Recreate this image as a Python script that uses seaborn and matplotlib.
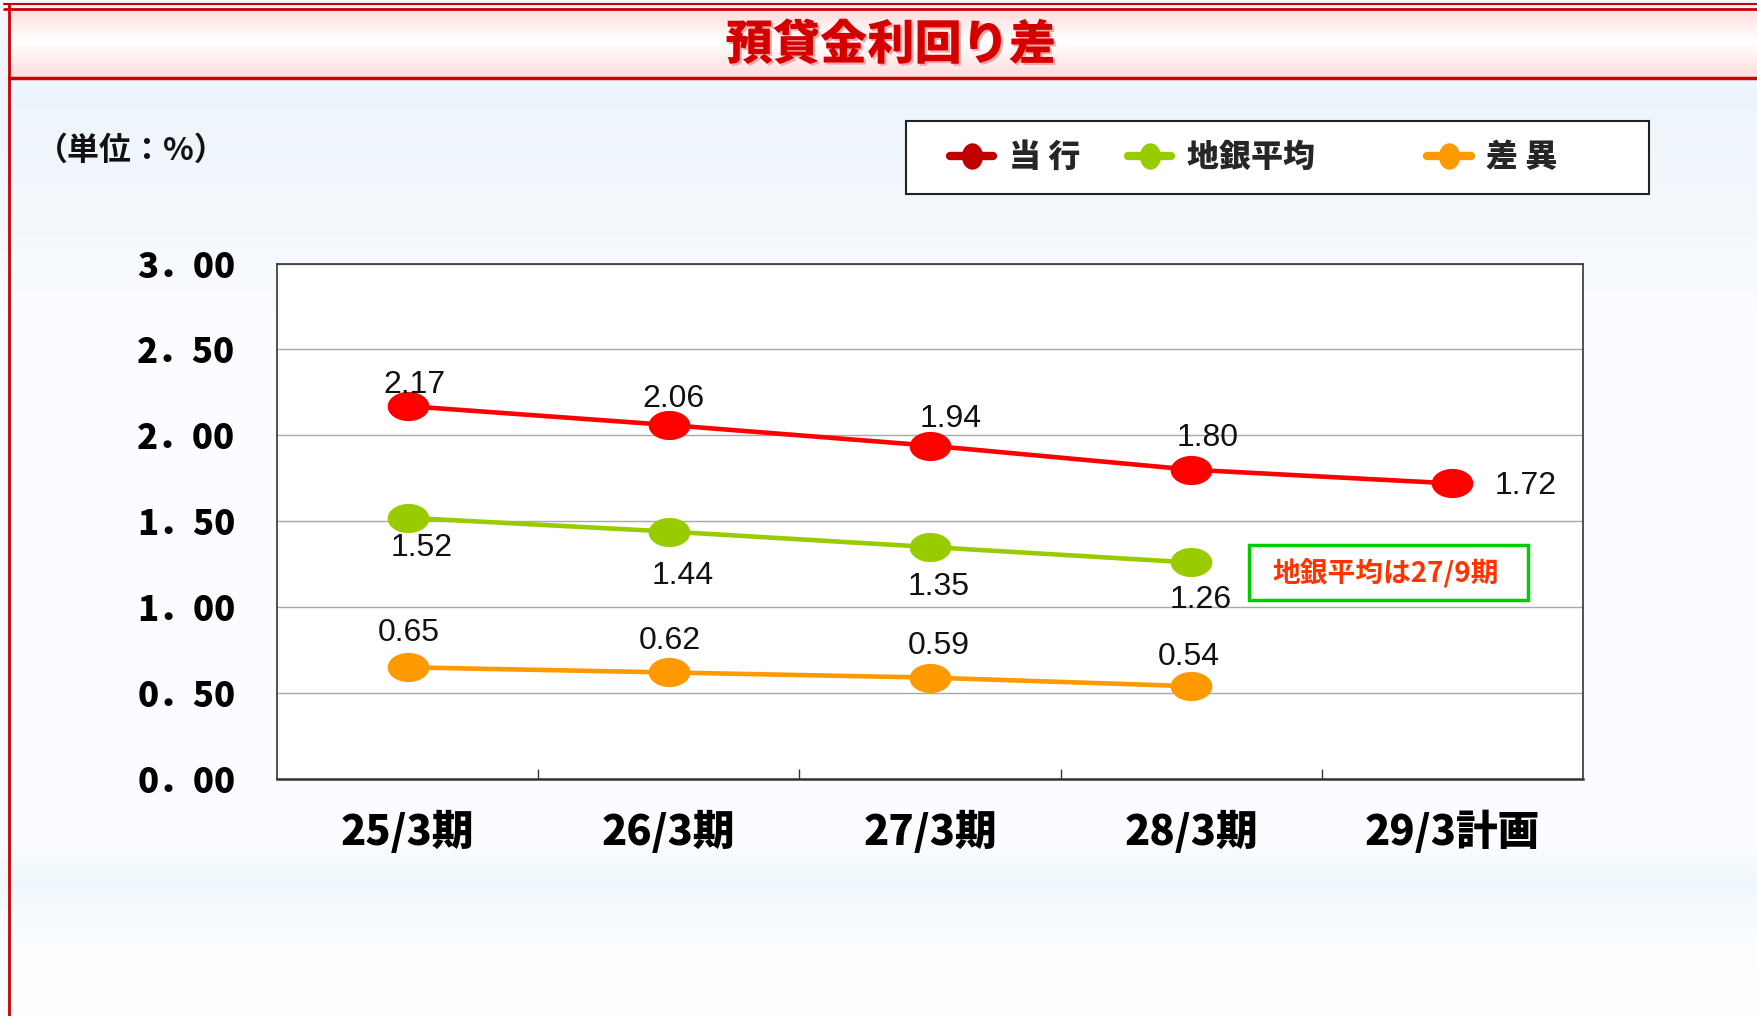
import numpy as np
import pandas as pd
import matplotlib
matplotlib.use("Agg")
import matplotlib.pyplot as plt
import matplotlib.patheffects as pe
from matplotlib.path import Path
from matplotlib.lines import Line2D
from matplotlib.patches import Rectangle
from matplotlib.ticker import FuncFormatter
import seaborn as sns

# ---- data ----
periods = ["25/3期", "26/3期", "27/3期", "28/3期", "29/3計画"]
touko = [2.17, 2.06, 1.94, 1.80, 1.72]      # 当行
chigin = [1.52, 1.44, 1.35, 1.26]           # 地銀平均
sai = [0.65, 0.62, 0.59, 0.54]              # 差異
series_names = ["当 行", "地銀平均", "差 異"]
title = "預貸金利回り差"
unit_label = "（単位：%）"
note_text = "地銀平均は27/9期"

# label offsets in points (dx, dy) from each marker
touko_off = [(5, 15), (3, 19), (15, 19), (12, 23), (53, -2)]
chigin_off = [(10, -22), (10, -32), (6, -29), (7, -27)]
sai_off = [(1, 25), (1, 23), (6, 23), (-2, 21)]

RED, GREEN, ORANGE = "#FF0000", "#99CC00", "#FF9900"
W, H = 1758, 1016

sns.set_theme(style="white")
plt.rcParams["font.family"] = ["Noto Sans CJK JP", "DejaVu Sans"]

fig = plt.figure(figsize=(W / 100, H / 100), dpi=100)

# ---- background: pale sky gradient + pink title band ----
bg = fig.add_axes([0, 0, 1, 1], zorder=-5)
bg.axis("off")
ys = np.arange(H)
stops_y = [0, 90, 200, 320, 840, 885, 905, 950, H]
stops_c = np.array([
    [0.95, 0.97, 0.99], [0.93, 0.96, 0.985], [0.95, 0.97, 0.99], [0.985, 0.99, 1.0],
    [0.985, 0.99, 1.0], [0.94, 0.97, 0.99], [0.96, 0.98, 0.995], [0.99, 0.995, 1.0],
    [1.0, 1.0, 1.0]])
grad = np.stack([np.interp(ys, stops_y, stops_c[:, k]) for k in range(3)], axis=-1)
bg.imshow(grad[:, None, :], extent=(0, W, H, 0), aspect="auto")
band_y = np.arange(8, 79)
band_c = np.array([[1.0, 0.86, 0.86], [1.0, 1.0, 1.0], [1.0, 0.86, 0.86]])
band = np.stack([np.interp(band_y, [8, 42, 78], band_c[:, k]) for k in range(3)], axis=-1)
bg.imshow(band[:, None, :], extent=(9, W, 78, 8), aspect="auto")
bg.plot([4, W], [4, 4], color="#CC0000", lw=1.5)
bg.plot([4, W], [8.5, 8.5], color="#CC0000", lw=2)
bg.plot([9, W], [78, 78], color="#CC0000", lw=2.5)
bg.plot([9, 9], [4, H], color="#CC0000", lw=2)
bg.set_xlim(0, W)
bg.set_ylim(H, 0)

# ---- main plot ----
ax = fig.add_axes([277 / W, 1 - 779 / H, (1583 - 277) / W, (779 - 263.5) / H])
ax.set_facecolor("white")

t = np.linspace(0, 2 * np.pi, 64)
ellipse = Path(np.column_stack([np.cos(t), 0.70 * np.sin(t)]), closed=True)
legend_dot = Path(np.column_stack([0.8 * np.cos(t), np.sin(t)]), closed=True)

for vals, offs, col in [(touko, touko_off, RED), (chigin, chigin_off, GREEN), (sai, sai_off, ORANGE)]:
    df = pd.DataFrame({"x": np.arange(len(vals)), "y": vals})
    sns.lineplot(data=df, x="x", y="y", ax=ax, color=col, lw=3.3, marker=ellipse,
                 markersize=30, markeredgewidth=0, errorbar=None, zorder=3)
    for i, v in enumerate(vals):
        ax.annotate(f"{v:.2f}", (i, v), xytext=offs[i], textcoords="offset points",
                    ha="center", va="center", fontsize=23, color="#111111",
                    family=["Liberation Sans", "DejaVu Sans"], zorder=4)

ax.set_xlim(-0.5, len(periods) - 0.5)
ax.set_ylim(0, 3)
ax.set_yticks(np.arange(0, 3.01, 0.5))
ax.yaxis.set_major_formatter(FuncFormatter(lambda v, p: f"{v:.2f}".replace(".", "．")))
ax.set_xticks(range(len(periods)))
ax.set_xticklabels(periods)
ax.set_xticks(np.arange(0.5, len(periods) - 1), minor=True)
ax.set_xlabel("")
ax.set_ylabel("")
ax.yaxis.grid(True, color="#A8A8A8", lw=1)
ax.xaxis.grid(False)
ax.tick_params(axis="x", which="major", length=0, pad=23, labelsize=30, labelcolor="black")
ax.tick_params(axis="x", which="minor", direction="in", length=7, width=1, color="#333333", bottom=True)
ax.tick_params(axis="y", length=0, pad=30, labelsize=25, labelcolor="black")
for lab in ax.get_xticklabels() + ax.get_yticklabels():
    lab.set_fontweight("black")
for s in ax.spines.values():
    s.set_visible(True)
    s.set_color("#333333")
    s.set_linewidth(1.2)
ax.spines["bottom"].set_linewidth(1.8)

# ---- texts ----
fig.text(891 / W, 1 - 45 / H, title, ha="center", va="center", fontsize=34,
         fontweight="black", color="#D40000",
         path_effects=[pe.withSimplePatchShadow(offset=(1.5, -1.5), shadow_rgbFace="#F4A0A0", alpha=0.9)])
fig.text(36 / W, 1 - 151 / H, unit_label, ha="left", va="center", fontsize=23,
         fontweight="bold", color="#111111")

# note box
fig.add_artist(Rectangle((1249 / W, 1 - 600 / H), 279 / W, 55 / H, transform=fig.transFigure,
                         facecolor="white", edgecolor="#00CC00", lw=2.5, zorder=2))
fig.text(1386 / W, 1 - 574 / H, note_text, ha="center", va="center", fontsize=20,
         fontweight="bold", color="#FF3300", zorder=3)

# legend frame + entries
fig.add_artist(Rectangle((906 / W, 1 - 194 / H), 743 / W, 73 / H, transform=fig.transFigure,
                         facecolor="white", edgecolor="#222222", lw=1.5, zorder=2))
handles = [Line2D([], [], color=c, lw=6, marker=legend_dot, markersize=19, markeredgewidth=0)
           for c in ["#C00000", GREEN, ORANGE]]
labels = [series_names[0], series_names[1] + "　　", series_names[2]]
leg = fig.legend(handles, labels, loc="center left", bbox_to_anchor=(934 / W, 1 - 157.5 / H),
                 ncol=3, frameon=False, borderpad=0, handlelength=1.35, handletextpad=0.5,
                 columnspacing=1.5, prop={"size": 23, "weight": "black"})
leg.set_zorder(5)

fig.savefig("out.png", dpi=100)
